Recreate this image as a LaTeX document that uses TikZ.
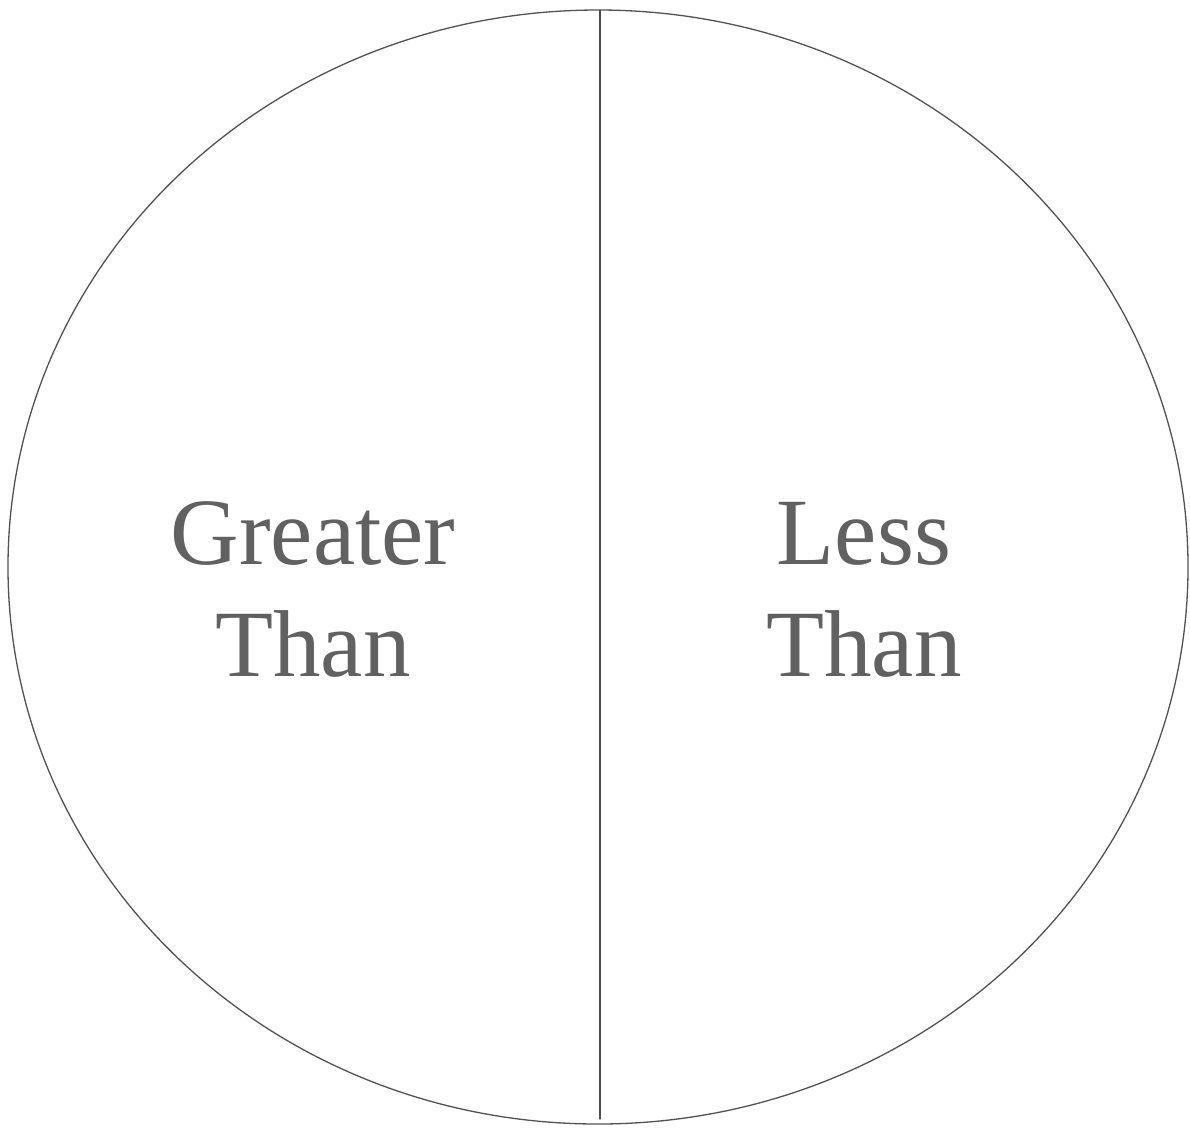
\documentclass[tikz,border=0pt]{standalone}
\usepackage{fontspec}
\setmainfont{Liberation Serif}
\begin{document}
\begin{tikzpicture}[
    x=1pt, y=-1pt,
    line cap=round,
    line join=round,
    rim/.style={draw=black!68, line width=1.3pt},
    divider/.style={draw=black!70, line width=1.3pt},
    lab/.style={text=black!62, align=center, inner sep=0pt, text depth=0pt,
      anchor=south, font=\fontsize{95}{112}\selectfont}
]
  \useasboundingbox (0,0) rectangle (1190,1128);

  \coordinate (C) at (598,567);
  \coordinate (top) at (600,10);
  \coordinate (bot) at (600,1119);

  \draw[rim] (C) ellipse [x radius=590, y radius=557];
  \draw[divider] (top) -- (bot);

  \node[lab] (greater) at (313,677) {Greater\\Than};
  \node[lab] (less) at (864,677) {Less\\Than};
\end{tikzpicture}
\end{document}
